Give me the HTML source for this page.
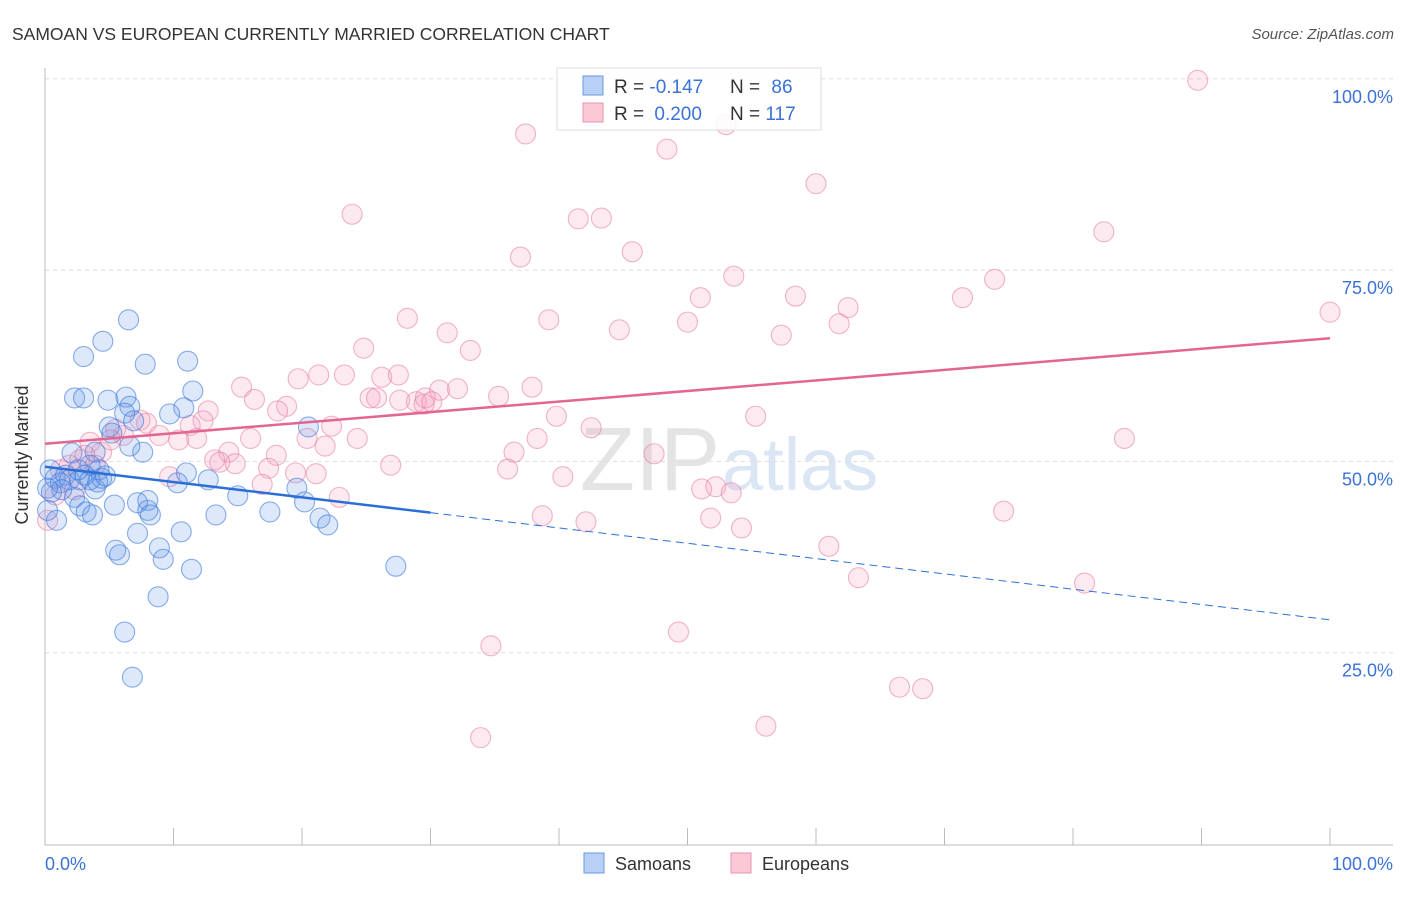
<!DOCTYPE html>
<html><head><meta charset="utf-8"><style>
body{margin:0;background:#fff;font-family:"Liberation Sans",sans-serif}
svg text{font-family:"Liberation Sans",sans-serif}
</style></head><body>
<svg width="1406" height="892" id="chart">
<text x="12" y="40" font-size="17.5" fill="#333">SAMOAN VS EUROPEAN CURRENTLY MARRIED CORRELATION CHART</text>
<text x="1394" y="39" font-size="15" fill="#555" text-anchor="end" font-style="italic">Source: ZipAtlas.com</text>
<text x="720" y="490" font-size="90" fill="#e4e4e4" text-anchor="end" font-family="Liberation Serif">ZIP</text>
<text x="722" y="490" font-size="74" fill="#dbe6f5">atlas</text>
<g id="grid"></g>
<g id="axes"></g>
<g id="pts"></g>
<g id="lines"></g>
<text x="28" y="455" font-size="18" fill="#333" text-anchor="middle" transform="rotate(-90 28 455)">Currently Married</text>
<text x="45" y="870" font-size="18" fill="#3a72d8">0.0%</text>
<text x="1393" y="870" font-size="18" fill="#3a72d8" text-anchor="end">100.0%</text>
<g>
<rect x="557" y="68" width="264" height="62" fill="rgba(255,255,255,0.85)" stroke="#ddd"/>
<rect x="583" y="76" width="20" height="19" fill="#b8d0f5" stroke="#6a9ae0"/>
<rect x="583" y="103" width="20" height="19" fill="#fbc8d6" stroke="#e892ad"/>
<text x="614" y="93" font-size="19" fill="#333">R = <tspan fill="#3a72d8">-0.147</tspan></text>
<text x="730" y="93" font-size="19" fill="#333">N = <tspan fill="#3a72d8" dx="6">86</tspan></text>
<text x="614" y="120" font-size="19" fill="#333">R = <tspan fill="#3a72d8" dx="5">0.200</tspan></text>
<text x="730" y="120" font-size="19" fill="#333">N = <tspan fill="#3a72d8">117</tspan></text>
</g>
<g>
<rect x="584" y="853" width="20" height="20" fill="#b8d0f5" stroke="#6a9ae0"/>
<text x="615" y="870" font-size="18" fill="#333">Samoans</text>
<rect x="731" y="853" width="20" height="20" fill="#fbc8d6" stroke="#e892ad"/>
<text x="762" y="870" font-size="18" fill="#333">Europeans</text>
</g>
</svg>
<script>
const samoanX=[6.5,4.5,3.0,7.8,11.1,2.3,3.0,4.9,6.3,11.5,6.6,10.8,9.7,6.2,6.9,5.0,5.2,20.5,7.6,6.6,2.1,3.9,11.0,10.3,12.7,15.0,19.6,20.2,8.0,7.2,8.0,8.2,5.4,2.3,2.7,3.2,3.7,3.9,4.4,4.2,3.5,17.5,13.3,21.4,22.0,10.6,7.2,5.5,5.8,8.9,9.2,11.4,27.3,8.8,6.2,6.8,0.4,0.8,1.2,1.6,1.9,1.3,0.5,0.2,2.7,3.1,3.5,4.1,4.7,2.6,0.2,0.9];
const samoanY=[68.5,65.7,63.7,62.7,63.1,58.3,58.3,58.0,58.4,59.2,57.2,57.0,56.2,56.3,55.3,54.5,53.7,54.5,51.2,52.0,51.1,51.2,48.5,47.2,47.6,45.5,46.5,44.7,44.9,44.6,43.6,43.0,44.3,45.3,44.2,43.4,43.0,46.4,47.8,48.9,49.5,43.4,43.0,42.6,41.7,40.8,40.6,38.4,37.8,38.7,37.2,35.9,36.3,32.3,27.7,21.8,48.9,47.8,47.2,48.2,47.6,46.3,46.0,46.5,47.6,48.2,47.6,47.3,48.1,48.9,43.6,42.3];
const euroX=[89.7,53.0,37.4,48.4,60.0,23.9,41.5,43.3,82.4,37.0,45.7,53.6,73.9,51.0,58.4,71.4,100,62.5,28.2,39.2,50.0,61.8,44.7,31.3,57.3,24.8,33.1,19.7,21.3,23.3,26.2,27.5,15.3,30.7,32.1,35.3,37.9,16.3,18.8,18.1,25.3,25.8,27.6,28.9,29.5,29.6,30.1,12.7,12.3,39.8,55.3,7.9,5.5,11.3,22.3,42.5,6.1,8.9,11.8,10.4,16.0,24.3,38.3,20.4,21.8,84.0,3.5,4.4,14.3,18.0,36.5,47.4,13.2,13.6,14.8,26.9,17.4,19.5,21.1,36.0,9.7,40.3,16.9,51.1,52.2,53.4,22.9,38.7,42.1,51.8,54.2,74.6,61.0,63.3,80.9,49.3,34.7,66.5,68.3,56.1,33.9,1.2,1.9,0.8,0.2,2.7,3.9,2.3,5.1,7.4,3.1];
const euroY=[99.8,94.0,92.8,90.8,86.3,82.3,81.7,81.8,80.0,76.7,77.4,74.2,73.8,71.4,71.6,71.4,69.5,70.1,68.7,68.5,68.2,68.0,67.2,66.8,66.5,64.8,64.5,60.8,61.3,61.3,61.0,61.3,59.7,59.3,59.5,58.5,59.7,58.1,57.2,56.6,58.3,58.3,58.0,57.8,57.5,58.3,57.8,56.6,55.3,55.9,55.9,55.0,54.2,54.7,54.6,54.4,53.4,53.4,53.0,52.8,53.0,53.0,53.0,53.0,52.0,53.0,52.5,51.2,51.2,50.8,51.2,51.0,50.2,49.9,49.7,49.5,49.1,48.5,48.4,49.0,48.0,48.0,47.0,46.4,46.7,45.9,45.3,42.9,42.1,42.6,41.3,43.5,38.9,34.8,34.1,27.7,25.9,20.5,20.3,15.4,13.9,48.9,49.5,45.6,42.3,50.2,49.5,46.3,52.8,55.4,50.8];
const yTicks=[25,50,75,100];
const yTickLabels=["25.0%","50.0%","75.0%","100.0%"];
const xTicks=[0,10,20,30,40,50,60,70,80,90,100];
const samoanTrend=[49.3,29.3];
const euroTrend=[52.3,66.1];
const NS="http://www.w3.org/2000/svg";
const xs=v=>45+v*12.85, ys=v=>844-v*7.652;
function mk(tag,attrs,parent){const e=document.createElementNS(NS,tag);for(const k in attrs)e.setAttribute(k,attrs[k]);parent.appendChild(e);return e;}
const grid=document.getElementById('grid'),axes=document.getElementById('axes'),pts=document.getElementById('pts'),lines=document.getElementById('lines');
yTicks.forEach((t,i)=>{
 const l=mk('line',{x1:45,x2:1393,y1:ys(t),y2:ys(t),stroke:'#ddd','stroke-dasharray':'4,4'},grid);
 
 
 const tx=mk('text',{x:1393,y:ys(t)+24,'font-size':18,fill:'#3a72d8','text-anchor':'end'},grid);
 tx.textContent=yTickLabels[i];
 
 
});
const ax=mk('line',{x1:45,x2:1393,y1:845,y2:845,stroke:'#bbb'},axes);


const ay=mk('line',{x1:45,x2:45,y1:68,y2:845,stroke:'#bbb'},axes);


xTicks.forEach(t=>{const l=mk('line',{x1:xs(t),x2:xs(t),y1:828,y2:845,stroke:'#bbb'},axes);
 
 });
function dots(X,Y,fill,stroke,name){X.forEach((x,i)=>{const c=mk('circle',{cx:xs(x),cy:ys(Y[i]),r:10,fill:fill,stroke:stroke,'stroke-width':1.1},pts);
 
 });}
dots(euroX,euroY,'rgba(244,160,190,0.22)','rgba(230,130,165,0.6)','european-point');
dots(samoanX,samoanY,'rgba(100,150,230,0.22)','rgba(60,120,220,0.6)','samoan-point');
const bl=(x)=>samoanTrend[0]+(samoanTrend[1]-samoanTrend[0])*x/100;
const l1=mk('line',{x1:xs(0),y1:ys(bl(0)),x2:xs(30),y2:ys(bl(30)),stroke:'#2b6fd6','stroke-width':2.5},lines);


const l2=mk('line',{x1:xs(30),y1:ys(bl(30)),x2:xs(100),y2:ys(bl(100)),stroke:'#2b6fd6','stroke-width':1,'stroke-dasharray':'8,5'},lines);


const l3=mk('line',{x1:xs(0),y1:ys(euroTrend[0]),x2:xs(100),y2:ys(euroTrend[1]),stroke:'#e36592','stroke-width':2.5},lines);


</script>
</body></html>
